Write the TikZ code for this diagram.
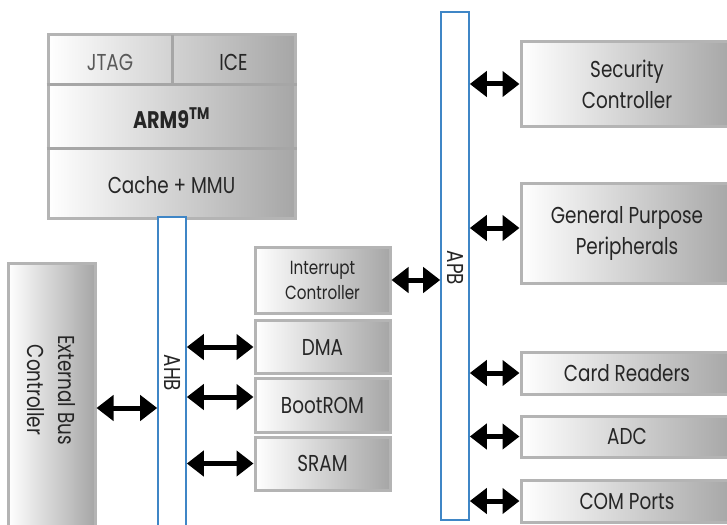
\documentclass[tikz,border=0pt]{standalone}
\usepackage{fontspec}
\setmainfont[FakeStretch=0.8]{Poppins}
\usetikzlibrary{arrows.meta}
\definecolor{busblue}{HTML}{3F86C6}
\definecolor{boxline}{HTML}{B4B4B4}
\definecolor{boxdark}{HTML}{A6A6A6}

\begin{document}
\begin{tikzpicture}[x = 1pt, y = -1pt,
                        block/.style = {draw = boxline, line width = 3pt, left color = white, right color = boxdark,
                                        inner sep = 0pt, align = center, text = black!85, font = \fontsize{23}{31}\selectfont},
                        bus/.style = {draw = busblue, line width = 1.6pt, fill = white, inner sep = 0pt},
                        label/.style = {inner sep = 0pt, align = center, text = black!85, font = \fontsize{23}{31}\selectfont},
                        biarrow/.style = {line width = 5pt, {Triangle[length = 17pt, width = 25pt]}-{Triangle[length = 17pt, width = 25pt]}}]
      \useasboundingbox (0, 0) rectangle (727, 524);
      % processor block
      \node [block, minimum width = 247pt, minimum height = 183pt] (cpu) at (171.5, 126.5){};
      \draw [boxdark, line width = 3pt] (cpu.west |- 0, 85) -- (cpu.east |- 0, 85);
      \draw [boxdark, line width = 3pt] (cpu.west |- 0, 148) -- (cpu.east |- 0, 148);
      \draw [boxdark, line width = 3pt] (172, 35) -- (172, 85);
      \node [label, text = black!65] (jtag) at (110, 62){JTAG};
      \node [label] (ice) at (233.5, 62){ICE};
      \node [label, font = \fontsize{24}{31}\selectfont] (arm) at (171.5, 118){\textbf{ARM9}\textsuperscript{\textbf{TM}}};
      \node [label] (cache) at (171.5, 185){Cache + MMU};
      % buses
      \node [bus, minimum width = 28pt, minimum height = 320pt] (ahb) at (172, 377){};
      \node [bus, minimum width = 28pt, minimum height = 508pt] (apb) at (455, 266){};
      \node [label, rotate = -90] at (173, 373){AHB};
      \node [label, rotate = -90] at (456, 268){APB};
      % AHB side
      \node [block, minimum width = 87pt, minimum height = 290pt] (ebc) at (51.5, 408){};
      \node [label, rotate = -90] at (51.5, 390){External Bus\\Controller};
      \node [block, minimum width = 135pt, minimum height = 66pt, font = \fontsize{19}{25}\selectfont] (irq) at (322.5, 280){Interrupt\\Controller};
      \node [block, minimum width = 135pt, minimum height = 53pt] (dma) at (322.5, 347){DMA};
      \node [block, minimum width = 135pt, minimum height = 54pt] (boot) at (322.5, 405){BootROM};
      \node [block, minimum width = 135pt, minimum height = 53pt] (sram) at (322.5, 463.5){SRAM};
      % APB side
      \node [block, minimum width = 212pt, minimum height = 84pt] (sec) at (627, 84){Security\\Controller};
      \node [block, minimum width = 212pt, minimum height = 100pt] (gpp) at (627, 233){General Purpose\\Peripherals};
      \node [block, minimum width = 212pt, minimum height = 42pt] (card) at (627, 373){Card Readers};
      \node [block, minimum width = 212pt, minimum height = 41pt] (adc) at (627, 436.5){ADC};
      \node [block, minimum width = 212pt, minimum height = 42pt] (com) at (627, 501){COM Ports};
      % connections
      \draw [biarrow] (ebc.east) -- (ebc.east -| ahb.west);
      \draw [biarrow] (dma.west -| ahb.east) -- (dma.west);
      \draw [biarrow] ([yshift = 8pt]boot.west -| ahb.east) -- ([yshift = 8pt]boot.west);
      \draw [biarrow] (sram.west -| ahb.east) -- (sram.west);
      \draw [biarrow] (irq.east) -- (irq.east -| apb.west);
      \draw [biarrow] (sec.west -| apb.east) -- (sec.west);
      \draw [biarrow] ([yshift = 5pt]gpp.west -| apb.east) -- ([yshift = 5pt]gpp.west);
      \draw [biarrow] (card.west -| apb.east) -- (card.west);
      \draw [biarrow] (adc.west -| apb.east) -- (adc.west);
      \draw [biarrow] (com.west -| apb.east) -- (com.west);
    \end{tikzpicture}
\end{document}
